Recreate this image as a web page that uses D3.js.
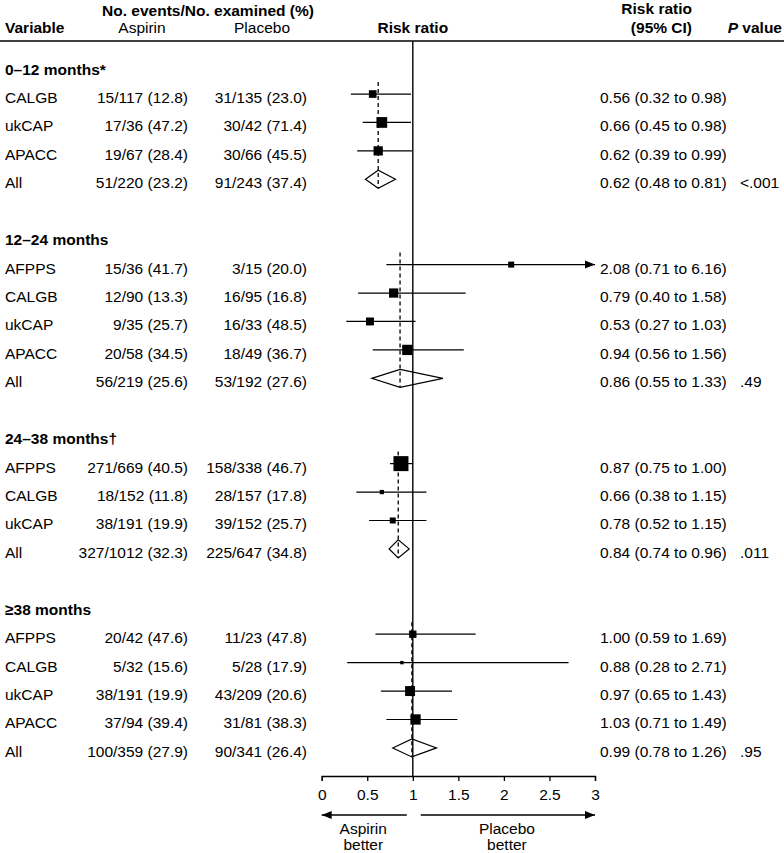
<!DOCTYPE html>
<html><head><meta charset="utf-8">
<script src="https://cdn.jsdelivr.net/npm/d3@7"></script>
<style>
body{margin:0;background:#fff}
svg{display:block}
text{font-family:"Liberation Sans",Arial,sans-serif;font-size:15.5px;fill:#000}
</style>
</head><body><svg id="c" width="784" height="853"></svg>
<script>
// ---------- data ----------
const groups = ["0–12 months*", "12–24 months", "24–38 months†", "≥38 months"];
const groupOf = [0,0,0,0, 1,1,1,1,1, 2,2,2,2, 3,3,3,3,3];
const study = ["CALGB","ukCAP","APACC","All",
               "AFPPS","CALGB","ukCAP","APACC","All",
               "AFPPS","CALGB","ukCAP","All",
               "AFPPS","CALGB","ukCAP","APACC","All"];
const aspEvents = [15,17,19,51, 15,12,9,20,56, 271,18,38,327, 20,5,38,37,100];
const aspTotal  = [117,36,67,220, 36,90,35,58,219, 669,152,191,1012, 42,32,191,94,359];
const aspPct    = [12.8,47.2,28.4,23.2, 41.7,13.3,25.7,34.5,25.6, 40.5,11.8,19.9,32.3, 47.6,15.6,19.9,39.4,27.9];
const plaEvents = [31,30,30,91, 3,16,16,18,53, 158,28,39,225, 11,5,43,31,90];
const plaTotal  = [135,42,66,243, 15,95,33,49,192, 338,157,152,647, 23,28,209,81,341];
const plaPct    = [23.0,71.4,45.5,37.4, 20.0,16.8,48.5,36.7,27.6, 46.7,17.8,25.7,34.8, 47.8,17.9,20.6,38.3,26.4];
const rr = [0.56,0.66,0.62,0.62, 2.08,0.79,0.53,0.94,0.86, 0.87,0.66,0.78,0.84, 1.00,0.88,0.97,1.03,0.99];
const lo = [0.32,0.45,0.39,0.48, 0.71,0.40,0.27,0.56,0.55, 0.75,0.38,0.52,0.74, 0.59,0.28,0.65,0.71,0.78];
const hi = [0.98,0.98,0.99,0.81, 6.16,1.58,1.03,1.56,1.33, 1.00,1.15,1.15,0.96, 1.69,2.71,1.43,1.49,1.26];
const weight = [26,51,38,null, 16,38,28,47,null, 100,8,16,null, 24,5,44,47,null];
const pValues = ["<.001", ".49", ".011", ".95"];
const ticks = [0, 0.5, 1, 1.5, 2, 2.5, 3];

// ---------- layout ----------
const svg = d3.select("#c");
const x = d3.scaleLinear().domain([0, 3]).range([321.7, 595]);
const rowY = d3.scaleLinear().domain([0, 24]).range([65.6, 65.6 + 24 * 28.43]);
const size = d3.scaleSqrt().domain([0, 100]).range([0, 15]);
const f2 = d3.format(".2f"), f1 = d3.format(".1f");
const TXT = 9; // text baseline offset from row centre
const axisY = 776;
const lineTop = 41;

// build row indices
const rows = [];
const headerRow = [];
let idx = 0;
groups.forEach((g, gi) => {
  headerRow.push(idx++);
  study.forEach((s, i) => { if (groupOf[i] === gi) rows[i] = idx++; });
  idx++;
});

// ---------- column headers ----------
const hdr = svg.append("g");
hdr.append("text").attr("x", 208).attr("y", 16).attr("text-anchor", "middle").attr("font-weight", "bold").text("No. events/No. examined (%)");
hdr.append("text").attr("x", 5).attr("y", 33).attr("font-weight", "bold").text("Variable");
hdr.append("text").attr("x", 142).attr("y", 33).attr("text-anchor", "middle").text("Aspirin");
hdr.append("text").attr("x", 262).attr("y", 33).attr("text-anchor", "middle").text("Placebo");
hdr.append("text").attr("x", x(1)).attr("y", 33).attr("text-anchor", "middle").attr("font-weight", "bold").text("Risk ratio");
hdr.append("text").attr("x", 692).attr("y", 14).attr("text-anchor", "end").attr("font-weight", "bold").text("Risk ratio");
hdr.append("text").attr("x", 692).attr("y", 33).attr("text-anchor", "end").attr("font-weight", "bold").text("(95% CI)");
const pv = hdr.append("text").attr("x", 782).attr("y", 33).attr("text-anchor", "end").attr("font-weight", "bold");
pv.append("tspan").attr("font-style", "italic").text("P");
pv.append("tspan").text(" value");
svg.append("line").attr("x1", 0).attr("x2", 784).attr("y1", lineTop).attr("y2", lineTop).attr("stroke", "#000").attr("stroke-width", 1.6);

// ---------- group headers ----------
svg.append("g").selectAll("text").data(groups).join("text")
  .attr("x", 5).attr("y", (d, i) => rowY(headerRow[i]) + TXT)
  .attr("font-weight", "bold").text(d => d);

// ---------- table text ----------
const tbl = svg.append("g");
tbl.selectAll(".st").data(study).join("text").attr("class", "st")
  .attr("x", 5).attr("y", (d, i) => rowY(rows[i]) + TXT).text(d => d);
tbl.selectAll(".asp").data(study).join("text").attr("class", "asp")
  .attr("x", 188).attr("y", (d, i) => rowY(rows[i]) + TXT).attr("text-anchor", "end")
  .text((d, i) => `${aspEvents[i]}/${aspTotal[i]} (${f1(aspPct[i])})`);
tbl.selectAll(".pla").data(study).join("text").attr("class", "pla")
  .attr("x", 307).attr("y", (d, i) => rowY(rows[i]) + TXT).attr("text-anchor", "end")
  .text((d, i) => `${plaEvents[i]}/${plaTotal[i]} (${f1(plaPct[i])})`);
tbl.selectAll(".ci").data(study).join("text").attr("class", "ci")
  .attr("x", 600).attr("y", (d, i) => rowY(rows[i]) + TXT)
  .text((d, i) => `${f2(rr[i])} (${f2(lo[i])} to ${f2(hi[i])})`);
const allIdx = study.map((s, i) => i).filter(i => study[i] === "All");
tbl.selectAll(".pv").data(pValues).join("text").attr("class", "pv")
  .attr("x", 740).attr("y", (d, gi) => rowY(rows[allIdx[gi]]) + TXT).text(d => d);

// ---------- plot ----------
const plot = svg.append("g");
// axis
const axis = d3.axisBottom(x).tickValues(ticks).tickSize(5).tickSizeOuter(5).tickPadding(8)
  .tickFormat(d => String(d));
const ag = plot.append("g").attr("transform", `translate(0,${axisY})`).call(axis);
ag.selectAll("path,line").attr("stroke", "#000").attr("stroke-width", 1.3);
ag.selectAll("text").style("font-family", '"Liberation Sans",Arial,sans-serif').style("font-size", "15.5px").attr("fill", "#000");

// reference line at 1
plot.append("line").attr("x1", x(1)).attr("x2", x(1)).attr("y1", lineTop).attr("y2", axisY)
  .attr("stroke", "#000").attr("stroke-width", 1.4);

// dashed pooled lines
groups.forEach((g, gi) => {
  const members = study.map((s, i) => i).filter(i => groupOf[i] === gi);
  const first = members[0];
  const all = members.find(i => study[i] === "All");
  plot.append("line")
    .attr("x1", x(rr[all])).attr("x2", x(rr[all]))
    .attr("y1", rowY(rows[first]) - 12).attr("y2", rowY(rows[all]) + 9)
    .attr("stroke", "#000").attr("stroke-width", 1.3).attr("stroke-dasharray", "4,3");
});

// CI whiskers for studies
const studyIdx = study.map((s, i) => i).filter(i => study[i] !== "All");
plot.selectAll(".wh").data(studyIdx).join("line").attr("class", "wh")
  .attr("x1", i => x(Math.max(lo[i], 0))).attr("x2", i => x(Math.min(hi[i], 3)))
  .attr("y1", i => rowY(rows[i])).attr("y2", i => rowY(rows[i]))
  .attr("stroke", "#000").attr("stroke-width", 1.2);
// arrowheads for truncated CIs
plot.selectAll(".ah").data(studyIdx.filter(i => hi[i] > 3)).join("path").attr("class", "ah")
  .attr("d", i => { const xe = x(3), y = rowY(rows[i]); return `M${xe},${y}L${xe - 10},${y - 4}L${xe - 10},${y + 4}Z`; })
  .attr("fill", "#000");
// squares
plot.selectAll(".sq").data(studyIdx).join("rect").attr("class", "sq")
  .attr("x", i => x(rr[i]) - size(weight[i]) / 2).attr("y", i => rowY(rows[i]) - size(weight[i]) / 2)
  .attr("width", i => size(weight[i])).attr("height", i => size(weight[i]))
  .attr("fill", "#000");
// diamonds
plot.selectAll(".dm").data(allIdx).join("path").attr("class", "dm")
  .attr("d", i => { const y = rowY(rows[i]); return `M${x(lo[i])},${y}L${x(rr[i])},${y - 9}L${x(hi[i])},${y}L${x(rr[i])},${y + 9}Z`; })
  .attr("fill", "none").attr("stroke", "#000").attr("stroke-width", 1.2);

// direction arrows
const arY = 815;
const arr = (x1, x2) => {
  plot.append("line").attr("x1", x1).attr("x2", x2).attr("y1", arY).attr("y2", arY).attr("stroke", "#000").attr("stroke-width", 1.3);
  const d = x2 > x1 ? 1 : -1;
  plot.append("path").attr("d", `M${x2},${arY}L${x2 - d * 10},${arY - 4}L${x2 - d * 10},${arY + 4}Z`).attr("fill", "#000");
};
arr(x(1) - 6, x(0));
arr(x(1) + 8, x(3));
const lab = (cx, l1, l2) => {
  plot.append("text").attr("x", cx).attr("y", 834).attr("text-anchor", "middle").text(l1);
  plot.append("text").attr("x", cx).attr("y", 849.5).attr("text-anchor", "middle").text(l2);
};
lab((x(0) + x(1)) / 2 - 4, "Aspirin", "better");
lab((x(1) + x(3)) / 2 + 3, "Placebo", "better");
</script></body></html>
